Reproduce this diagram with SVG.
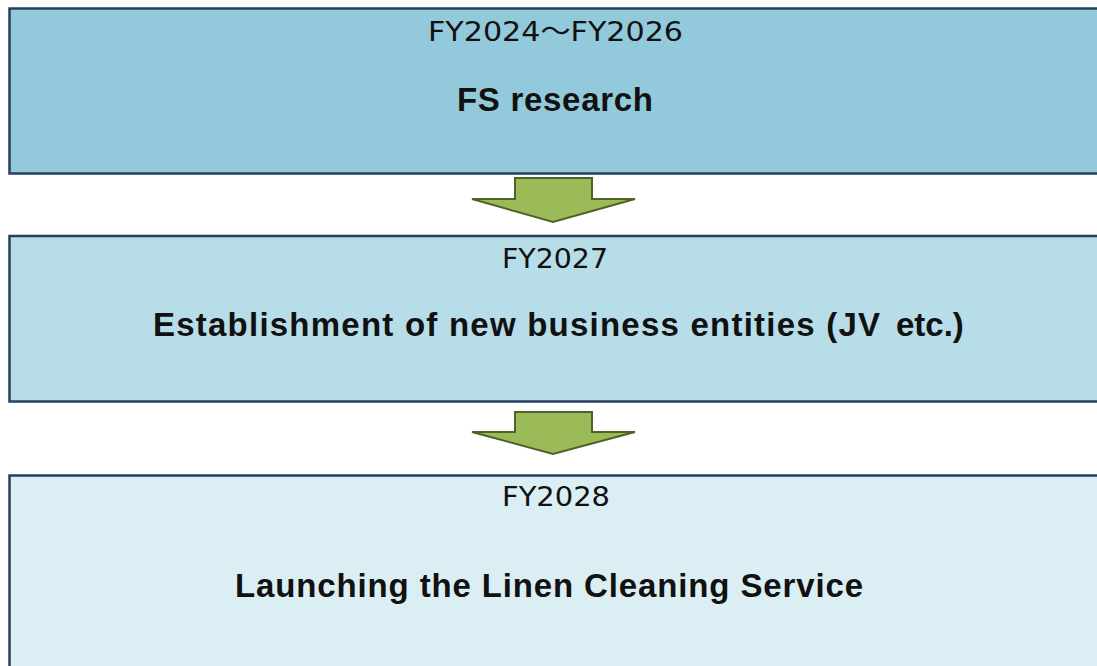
<svg xmlns="http://www.w3.org/2000/svg" width="1097" height="666" viewBox="0 0 1097 666">
<style>
.box{stroke:#243f60;stroke-width:2.5}
.yr{font-family:"DejaVu Sans","Noto Sans CJK JP",sans-serif;font-size:27px;fill:#111}
.cjk{font-family:"Noto Sans CJK JP",sans-serif}
.ttl{font-family:"Liberation Sans",Arial,sans-serif;font-weight:bold;font-size:33px;fill:#111}
.arr{fill:#9bbb59;stroke:#4f6228;stroke-width:2;stroke-linejoin:miter}
</style>
<rect width="1097" height="666" fill="#ffffff"/>
<g id="node-fs">
<rect class="box" x="9.5" y="8.5" width="1100" height="165" fill="#93cadb"/>
<text class="yr" x="428" y="41" textLength="255" lengthAdjust="spacingAndGlyphs">FY2024<tspan class="cjk">～</tspan>FY2026</text>
<text class="ttl" x="457" y="111" textLength="196" lengthAdjust="spacing">FS research</text>
</g>
<g id="node-jv">
<rect class="box" x="9.5" y="236" width="1100" height="165.5" fill="#b7dde8"/>
<text class="yr" x="502" y="268" textLength="106" lengthAdjust="spacingAndGlyphs">FY2027</text>
<text class="ttl" x="153" y="336" textLength="727" lengthAdjust="spacing">Establishment of new business entities (JV</text>
<text class="ttl" x="896" y="336">etc.)</text>
</g>
<g id="node-launch">
<rect class="box" x="9.5" y="475.5" width="1100" height="200" fill="#daeef3"/>
<text class="yr" x="502" y="506" textLength="108" lengthAdjust="spacingAndGlyphs">FY2028</text>
<text class="ttl" x="235" y="597" textLength="628" lengthAdjust="spacing">Launching the Linen Cleaning Service</text>
</g>
<g id="connectors">
<polygon class="arr" points="515,178 592,178 592,199 635,199 553,222 472,199 515,199"/>
<polygon class="arr" points="515,412 592,412 592,432 635,432 553,454 472,432 515,432"/>
</g>
</svg>
